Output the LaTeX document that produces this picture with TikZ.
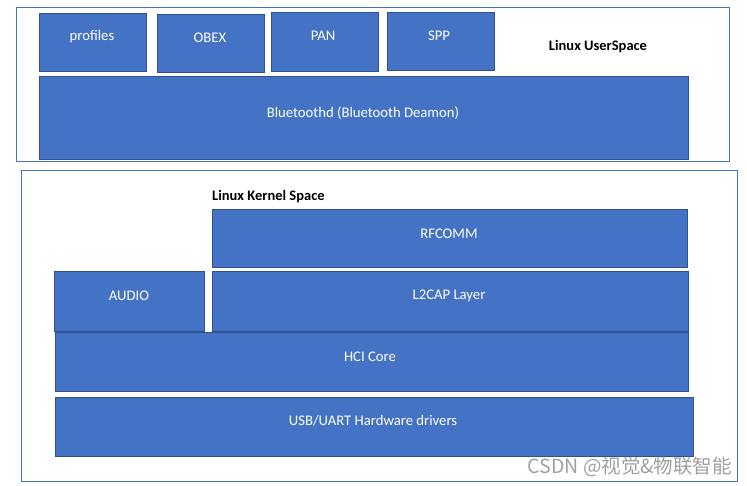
\documentclass[tikz,border=0pt]{standalone}
\usepackage{fontspec}
\setmainfont{Carlito}
\newfontfamily\cjk{Noto Sans CJK SC}
\definecolor{boxfill}{HTML}{4472C4}
\definecolor{boxline}{HTML}{2F528F}
\definecolor{frameline}{HTML}{4472C4}
\definecolor{wmgray}{HTML}{A0A0A0}
\begin{document}
\begin{tikzpicture}[x=1pt,y=-1pt,
  layer/.style={draw=boxline,fill=boxfill,line width=0.8pt},
  lbl/.style={text=white,font=\fontsize{14.7}{17}\selectfont,inner sep=0pt,anchor=center},
  frame/.style={draw=frameline,line width=0.9pt},
  title/.style={font=\bfseries\fontsize{14.5}{17}\selectfont,inner sep=0pt,text=black}]
\useasboundingbox (0,0) rectangle (747,486);
\fill[white] (0,0) rectangle (747,486);
% frames
\draw[frame] (16,7) rectangle (729,161);
\draw[frame] (21,170) rectangle (737,481);
% user space
\draw[layer] (39,13) rectangle (146,71);
\draw[layer] (157,14) rectangle (264,72);
\draw[layer] (271,12) rectangle (378,71);
\draw[layer] (387,12) rectangle (494,70);
\draw[layer] (39,76) rectangle (688,159);
\node[lbl] (profiles) at (92,37) {profiles};
\node[lbl] (obex) at (210,38) {OBEX};
\node[lbl] (pan) at (323,36) {PAN};
\node[lbl] (spp) at (439,36) {SPP};
\node[lbl] (btd) at (363,113) {Bluetoothd (Bluetooth Deamon)};
\node[title] (us) at (598,47) {Linux UserSpace};
% kernel space
\node[title,anchor=west] (ks) at (212,197) {Linux Kernel Space};
\draw[layer] (212,209) rectangle (687,267);
\draw[layer] (54,271) rectangle (204,331);
\draw[layer] (212,271) rectangle (688,331);
\draw[layer] (55,332) rectangle (688,391);
\draw[layer] (55,397) rectangle (693,456);
\node[lbl] (rfcomm) at (449,234) {RFCOMM};
\node[lbl] (audio) at (129,296) {AUDIO};
\node[lbl] (l2cap) at (449,296) {L2CAP Layer};
\node[lbl] (hci) at (370,357) {HCI Core};
\node[lbl] (usb) at (373,421) {USB/UART Hardware drivers};
% watermark
\node[anchor=east,inner sep=0pt,text=wmgray,font=\cjk\fontsize{19.5}{22}\selectfont] (wm) at (732,467) {CSDN @视觉\&物联智能};
\end{tikzpicture}
\end{document}
